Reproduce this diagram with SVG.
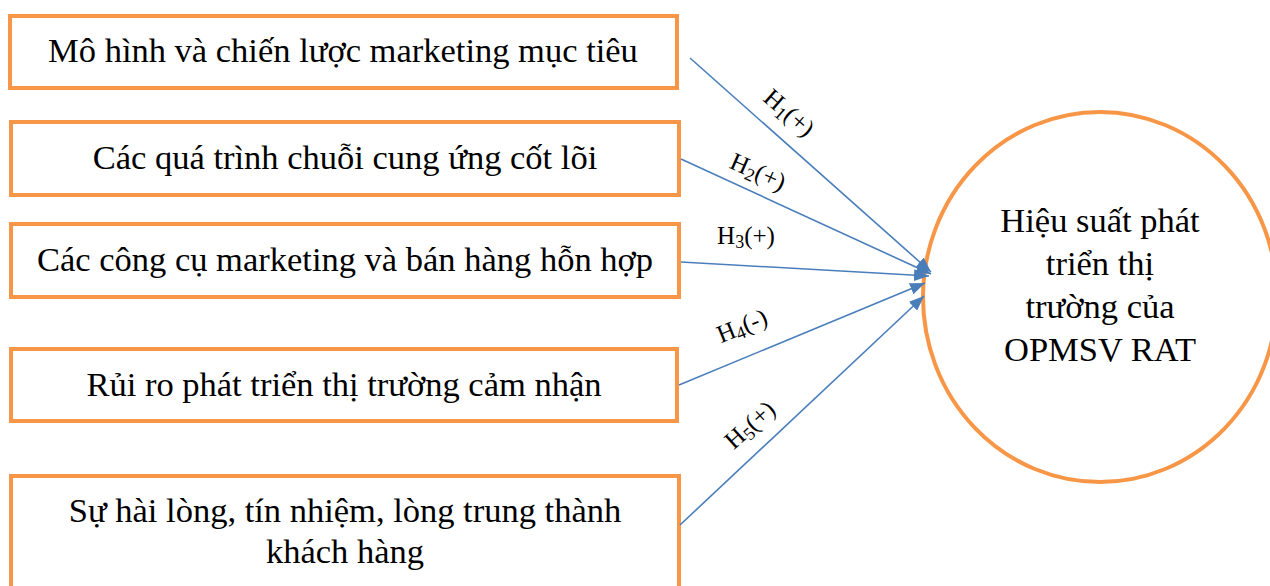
<svg xmlns="http://www.w3.org/2000/svg" width="1270" height="586" viewBox="0 0 1270 586">
<style>
.box{fill:#fff;stroke:#F79646;stroke-width:4}
.t{font-family:"Liberation Serif","Times New Roman",serif;font-size:34.5px;fill:#000;text-anchor:middle}
.lbl{font-family:"Liberation Serif","Times New Roman",serif;font-size:25px;fill:#000;text-anchor:middle}
.con{stroke:#4A7EBB;stroke-width:1.6;fill:none;marker-end:url(#ah)}
</style>
<defs>
<marker id="ah" markerUnits="userSpaceOnUse" markerWidth="16" markerHeight="12" refX="15" refY="6" orient="auto">
<path d="M0,0 L15,6 L0,12 z" fill="#4A7EBB"/>
</marker>
</defs>
<g id="node1"><rect class="box" x="10" y="16" width="667" height="72"/><text class="t" x="343" y="62">Mô hình và chiến lược marketing mục tiêu</text></g>
<g id="node2"><rect class="box" x="11" y="122" width="668" height="73"/><text class="t" x="345" y="169">Các quá trình chuỗi cung ứng cốt lõi</text></g>
<g id="node3"><rect class="box" x="11" y="224" width="668" height="73"/><text class="t" x="345" y="271">Các công cụ marketing và bán hàng hỗn hợp</text></g>
<g id="node4"><rect class="box" x="11" y="349" width="666" height="72"/><text class="t" x="344" y="396">Rủi ro phát triển thị trường cảm nhận</text></g>
<g id="node5"><rect class="box" x="11" y="476" width="668" height="120"/><text class="t" x="345" y="522">Sự hài lòng, tín nhiệm, lòng trung thành</text><text class="t" x="345" y="563">khách hàng</text></g>
<g id="node6"><ellipse cx="1100" cy="297" rx="177" ry="185" fill="#fff" stroke="#F79646" stroke-width="4"/>
<text class="t" x="1100" y="232">Hiệu suất phát</text>
<text class="t" x="1100" y="275">triển thị</text>
<text class="t" x="1100" y="318">trường của</text>
<text class="t" x="1100" y="361">OPMSV RAT</text></g>
<g id="connectors">
<line class="con" x1="690" y1="58" x2="931" y2="272"/>
<line class="con" x1="681" y1="159" x2="931" y2="274"/>
<line class="con" x1="681" y1="262" x2="929" y2="276"/>
<line class="con" x1="679" y1="385" x2="925" y2="283"/>
<line class="con" x1="680" y1="525" x2="924" y2="296"/>
<text class="lbl" transform="translate(789 113) rotate(41)" y="8">H<tspan font-size="18" dy="4">1</tspan><tspan dy="-4">(+)</tspan></text>
<text class="lbl" transform="translate(758 172) rotate(24)" y="8">H<tspan font-size="18" dy="4">2</tspan><tspan dy="-4">(+)</tspan></text>
<text class="lbl" transform="translate(746 236)" y="8">H<tspan font-size="18" dy="4">3</tspan><tspan dy="-4">(+)</tspan></text>
<text class="lbl" transform="translate(742 326) rotate(-22)" y="8">H<tspan font-size="18" dy="4">4</tspan><tspan dy="-4">(-)</tspan></text>
<text class="lbl" transform="translate(750 425) rotate(-42)" y="8">H<tspan font-size="18" dy="4">5</tspan><tspan dy="-4">(+)</tspan></text>
</g>
</svg>
